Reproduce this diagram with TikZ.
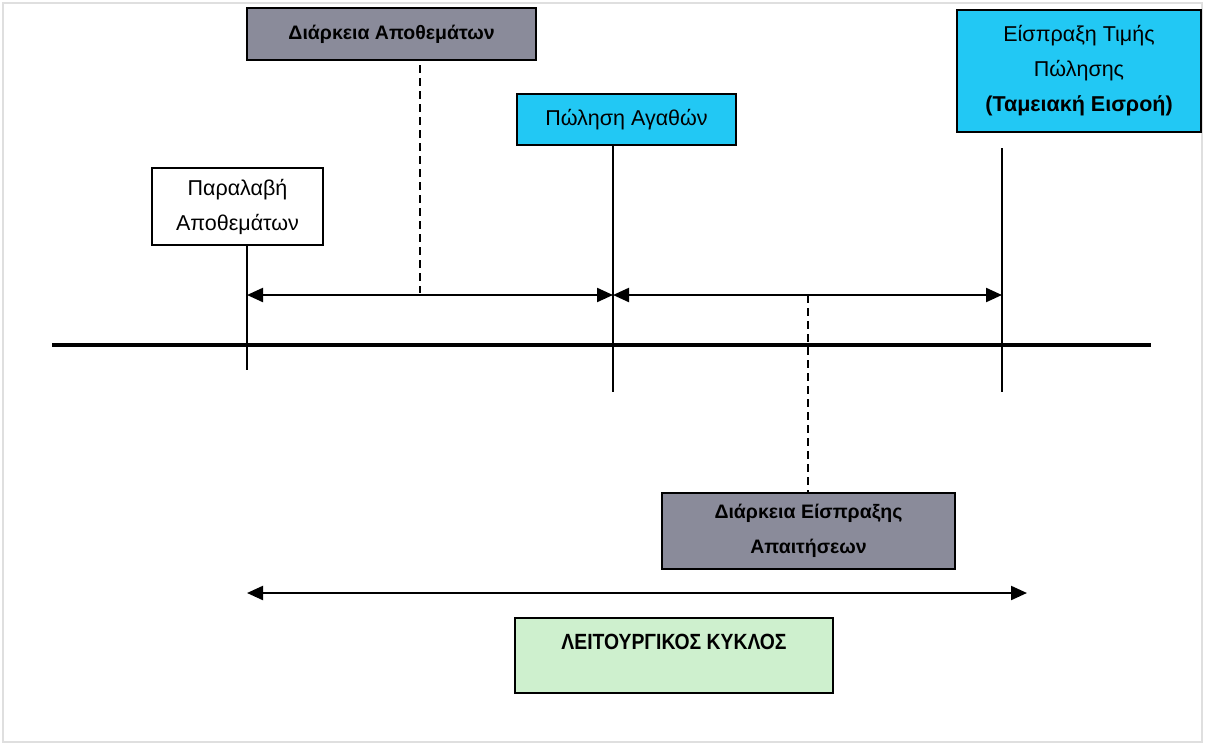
\documentclass[tikz,border=0pt]{standalone}
\usepackage{fontspec}
\setmainfont{Liberation Sans}
\usetikzlibrary{arrows.meta}
\definecolor{boxgray}{RGB}{138,139,154}
\definecolor{boxcyan}{RGB}{34,200,244}
\definecolor{boxgreen}{RGB}{206,240,206}
\tikzset{
  box/.style={draw=black, line width=2.2pt, inner sep=0pt, align=center,
    font=\fontsize{21.5}{35}\selectfont},
  graybox/.style={box, fill=boxgray, line width=2.8pt,
    font=\fontsize{19.5}{35}\selectfont\bfseries},
  cyanbox/.style={box, fill=boxcyan},
  whitebox/.style={box, fill=white},
  greenbox/.style={box, fill=boxgreen},
  vline/.style={line width=2.2pt},
  dashline/.style={line width=2.6pt, dash pattern=on 8pt off 5pt},
  twoway/.style={line width=2.2pt, {Triangle[length=16pt,width=14pt]}-{Triangle[length=16pt,width=14pt]}},
  axis/.style={line width=4pt}
}
\begin{document}
\begin{tikzpicture}[x=1pt,y=-1pt]
\useasboundingbox (0,0) rectangle (1205,745);
\draw[gray!25, line width=1.5pt] (3,3) rectangle (1202,742);

% boxes
\node[graybox, minimum width=289pt, minimum height=52pt] (dur1) at (391.5,34) {Διάρκεια Αποθεμάτων};
\node[cyanbox, minimum width=219pt, minimum height=51pt] (sale) at (626.5,119.5) {Πώληση Αγαθών};
\node[cyanbox, minimum width=244pt, minimum height=122pt] (collect) at (1079,71) {Είσπραξη Τιμής\\Πώλησης\\\textbf{(Ταμειακή Εισροή)}};
\node[whitebox, minimum width=171pt, minimum height=77pt] (receipt) at (237.5,206.5) {Παραλαβή\\Αποθεμάτων};
\node[graybox, minimum width=293pt, minimum height=76pt] (dur2) at (808.5,531) {Διάρκεια Είσπραξης\\Απαιτήσεων};
\node[greenbox, minimum width=318pt, minimum height=75pt] (cycle) at (674,655.5) {};
\node[font=\fontsize{22}{26}\selectfont\bfseries] (cycletext) at (674,642) {\scalebox{0.88}[1]{ΛΕΙΤΟΥΡΓΙΚΟΣ ΚΥΚΛΟΣ}};

% coordinates
\coordinate (v1b) at (247,370);
\coordinate (v2t) at (613,145);
\coordinate (v2b) at (613,392);
\coordinate (v3t) at (1002,148);
\coordinate (v3b) at (1002,392);
\coordinate (a1) at (247,295);
\coordinate (a2) at (613,295);
\coordinate (a3) at (1002,295);
\coordinate (ax1) at (52,345);
\coordinate (ax2) at (1151,345);
\coordinate (d1) at (420,293);
\coordinate (d2) at (808,295);
\coordinate (c1) at (247,593);
\coordinate (c2) at (1027,593);

% axis
\draw[axis] (ax1) -- (ax2);

% verticals
\draw[vline] (receipt.south -| v1b) -- (v1b);
\draw[vline] (v2t) -- (v2b);
\draw[vline] (v3t) -- (v3b);

% dashed
\draw[dashline] ([yshift=-4pt]dur1.south -| d1) -- (d1);
\draw[dashline] (d2) -- (dur2.north -| d2);

% arrows
\draw[twoway] (a1) -- (a2);
\draw[twoway] (a2) -- (a3);
\draw[twoway] (c1) -- (c2);
\end{tikzpicture}
\end{document}
